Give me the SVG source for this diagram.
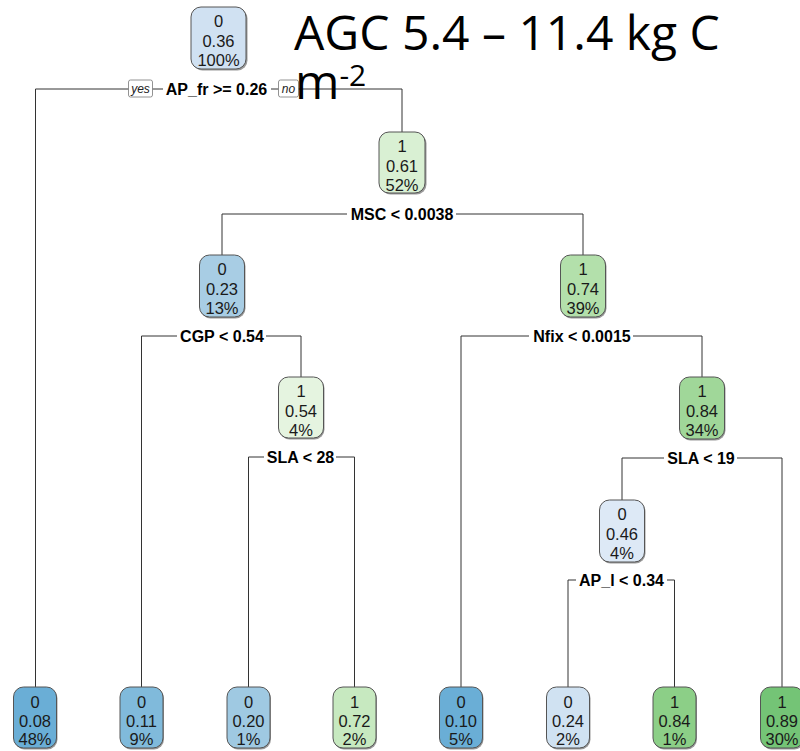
<svg xmlns="http://www.w3.org/2000/svg" width="800" height="751" viewBox="0 0 800 751">
<style>
.box{stroke:#555;stroke-width:1}
.sh{fill:#9a9a9a}
.nt{font-family:"Liberation Sans",Arial,sans-serif;font-size:16.5px;fill:#1a1a1a;text-anchor:middle}
.lbl{font-family:"Liberation Sans",Arial,sans-serif;font-size:16px;font-weight:bold;fill:#000;text-anchor:middle}
.yn{font-family:"Liberation Sans",Arial,sans-serif;font-size:12px;font-style:italic;fill:#222;text-anchor:middle}
.ynb{fill:#fff;stroke:#777;stroke-width:0.8}
.edge{fill:none;stroke:#333;stroke-width:1}
.bg{fill:#fff}
.title{font-family:"Open Sans","Noto Sans",sans-serif;fill:#000}
</style>
<rect width="800" height="751" fill="#fff"/>
<g id="connectors">
<path class="edge" d="M35.5,687 V89 H402 V132"/>
<path class="edge" d="M222,255 V214 H583 V255"/>
<path class="edge" d="M141.5,687 V336 H301 V377"/>
<path class="edge" d="M248.5,687 V457 H354.5 V687"/>
<path class="edge" d="M461,687 V336 H702 V377"/>
<path class="edge" d="M622,500 V458 H782 V687"/>
<path class="edge" d="M568,687 V580 H674.5 V687"/>
</g>
<g id="split-labels">
<rect class="bg" x="163" y="81" width="108" height="16"/>
<text class="lbl" x="216.5" y="95">AP_fr &gt;= 0.26</text>
<rect class="ynb" x="128.5" y="80" width="24" height="17" rx="2"/>
<text class="yn" x="140.5" y="93">yes</text>
<rect class="ynb" x="278.5" y="80" width="20" height="17" rx="2"/>
<text class="yn" x="288.5" y="93">no</text>
<rect class="bg" x="347" y="206" width="109" height="16"/>
<text class="lbl" x="402" y="219.5">MSC &lt; 0.0038</text>
<rect class="bg" x="177" y="328" width="89" height="16"/>
<text class="lbl" x="222" y="341.5">CGP &lt; 0.54</text>
<rect class="bg" x="264" y="449" width="72" height="16"/>
<text class="lbl" x="300.5" y="462.5">SLA &lt; 28</text>
<rect class="bg" x="529" y="328" width="104" height="16"/>
<text class="lbl" x="582" y="341.5">Nfix &lt; 0.0015</text>
<rect class="bg" x="664" y="450" width="73" height="16"/>
<text class="lbl" x="701" y="463.5">SLA &lt; 19</text>
<rect class="bg" x="576" y="572" width="91" height="16"/>
<text class="lbl" x="621.5" y="585.5">AP_l &lt; 0.34</text>
</g>
<g id="n1">
<rect class="sh" x="192.5" y="8.5" width="55" height="62" rx="10"/>
<rect class="box" x="191" y="7" width="55" height="62" rx="10" fill="#d0e1f2"/>
<text class="nt" x="218.5" y="27">0</text><text class="nt" x="218.5" y="46.5">0.36</text><text class="nt" x="218.5" y="65.5">100%</text>
</g>
<g id="n3">
<rect class="sh" x="380.5" y="133.5" width="46" height="61" rx="10"/>
<rect class="box" x="379" y="132" width="46" height="61" rx="10" fill="#d9f0d3"/>
<text class="nt" x="402" y="152">1</text><text class="nt" x="402" y="171.5">0.61</text><text class="nt" x="402" y="190.5">52%</text>
</g>
<g id="n6">
<rect class="sh" x="200.5" y="256.5" width="45" height="62" rx="10"/>
<rect class="box" x="199.5" y="255" width="45" height="62" rx="10" fill="#a8cde4"/>
<text class="nt" x="222" y="275">0</text><text class="nt" x="222" y="294.5">0.23</text><text class="nt" x="222" y="313.5">13%</text>
</g>
<g id="n7">
<rect class="sh" x="561.5" y="256.5" width="45" height="62" rx="10"/>
<rect class="box" x="560.5" y="255" width="45" height="62" rx="10" fill="#b3e0ab"/>
<text class="nt" x="583" y="275">1</text><text class="nt" x="583" y="294.5">0.74</text><text class="nt" x="583" y="313.5">39%</text>
</g>
<g id="n13">
<rect class="sh" x="279.5" y="378.5" width="45" height="61" rx="10"/>
<rect class="box" x="278.5" y="377" width="45" height="61" rx="10" fill="#e5f4e0"/>
<text class="nt" x="301" y="397">1</text><text class="nt" x="301" y="416.5">0.54</text><text class="nt" x="301" y="435.5">4%</text>
</g>
<g id="n15">
<rect class="sh" x="680.5" y="378.5" width="45" height="62" rx="10"/>
<rect class="box" x="679.5" y="377" width="45" height="62" rx="10" fill="#a0d799"/>
<text class="nt" x="702" y="397">1</text><text class="nt" x="702" y="416.5">0.84</text><text class="nt" x="702" y="435.5">34%</text>
</g>
<g id="n30">
<rect class="sh" x="600.5" y="501.5" width="45" height="62" rx="10"/>
<rect class="box" x="599.5" y="500" width="45" height="62" rx="10" fill="#dde9f6"/>
<text class="nt" x="622" y="520">0</text><text class="nt" x="622" y="539.5">0.46</text><text class="nt" x="622" y="558.5">4%</text>
</g>
<g id="leaf2">
<rect class="sh" x="14.5" y="688.5" width="43" height="61" rx="10"/>
<rect class="box" x="13.5" y="687" width="43" height="61" rx="10" fill="#6aaed6"/>
<text class="nt" x="35" y="707.5">0</text><text class="nt" x="35" y="726.5">0.08</text><text class="nt" x="35" y="745">48%</text>
</g>
<g id="leaf12">
<rect class="sh" x="121" y="688.5" width="43" height="61" rx="10"/>
<rect class="box" x="120" y="687" width="43" height="61" rx="10" fill="#80badb"/>
<text class="nt" x="141.5" y="707.5">0</text><text class="nt" x="141.5" y="726.5">0.11</text><text class="nt" x="141.5" y="745">9%</text>
</g>
<g id="leaf26">
<rect class="sh" x="228" y="688.5" width="43" height="61" rx="10"/>
<rect class="box" x="227" y="687" width="43" height="61" rx="10" fill="#9fc9e2"/>
<text class="nt" x="248.5" y="707.5">0</text><text class="nt" x="248.5" y="726.5">0.20</text><text class="nt" x="248.5" y="745">1%</text>
</g>
<g id="leaf27">
<rect class="sh" x="334" y="688.5" width="43" height="61" rx="10"/>
<rect class="box" x="333" y="687" width="43" height="61" rx="10" fill="#c7e9c0"/>
<text class="nt" x="354.5" y="707.5">1</text><text class="nt" x="354.5" y="726.5">0.72</text><text class="nt" x="354.5" y="745">2%</text>
</g>
<g id="leaf14">
<rect class="sh" x="440.5" y="688.5" width="43" height="61" rx="10"/>
<rect class="box" x="439.5" y="687" width="43" height="61" rx="10" fill="#6aaed6"/>
<text class="nt" x="461" y="707.5">0</text><text class="nt" x="461" y="726.5">0.10</text><text class="nt" x="461" y="745">5%</text>
</g>
<g id="leaf60">
<rect class="sh" x="547.5" y="688.5" width="43" height="61" rx="10"/>
<rect class="box" x="546.5" y="687" width="43" height="61" rx="10" fill="#d0e2f2"/>
<text class="nt" x="568" y="707.5">0</text><text class="nt" x="568" y="726.5">0.24</text><text class="nt" x="568" y="745">2%</text>
</g>
<g id="leaf61">
<rect class="sh" x="654" y="688.5" width="43" height="61" rx="10"/>
<rect class="box" x="653" y="687" width="43" height="61" rx="10" fill="#8ccf87"/>
<text class="nt" x="674.5" y="707.5">1</text><text class="nt" x="674.5" y="726.5">0.84</text><text class="nt" x="674.5" y="745">1%</text>
</g>
<g id="leaf31">
<rect class="sh" x="761.5" y="688.5" width="43" height="61" rx="10"/>
<rect class="box" x="760.5" y="687" width="43" height="61" rx="10" fill="#74c476"/>
<text class="nt" x="782" y="707.5">1</text><text class="nt" x="782" y="726.5">0.89</text><text class="nt" x="782" y="745">30%</text>
</g>
<g id="title">
<text class="title" x="294" y="50" font-size="48">AGC 5.4 – 11.4 kg C</text>
<text class="title" x="295" y="99" font-size="48">m<tspan font-size="30" dy="-13">-2</tspan></text>
</g>
</svg>
